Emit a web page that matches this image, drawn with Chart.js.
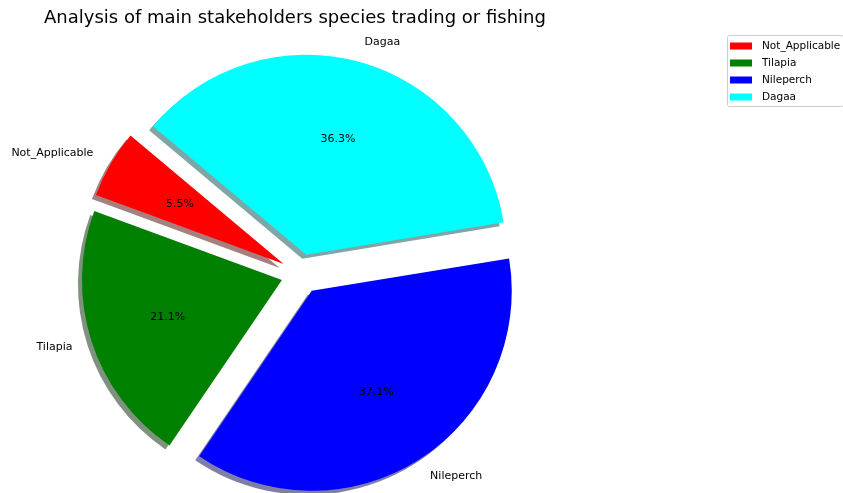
<!DOCTYPE html>
<html>
<head>
<meta charset="utf-8">
<script src="https://cdn.jsdelivr.net/npm/chart.js@4/dist/chart.umd.min.js"></script>
<style>
  body { margin: 0; background: #fff; }
  #wrap { width: 843px; height: 493px; }
</style>
</head>
<body>
<div id="wrap"><canvas id="pieCanvas" width="843" height="493"></canvas></div>
<script>
// species shares, in legend order
const categories = ["Not_Applicable", "Tilapia", "Nileperch", "Dagaa"];
const shares = [5.5, 21.1, 37.1, 36.3];
const sliceColors = ["#ff0000", "#008000", "#0000ff", "#00ffff"];
const chartTitle = "Analysis of main stakeholders species trading or fishing";

const FONT = "'DejaVu Sans', sans-serif";
const EXPLODE = 20;

// chart.js draws clockwise, so feed the slices in reverse order
const drawLabels = categories.slice().reverse();
const drawShares = shares.slice().reverse();
const drawColors = sliceColors.slice().reverse();

function shadowOf(hex) {
  const r = parseInt(hex.slice(1, 3), 16) * 0.3;
  const g = parseInt(hex.slice(3, 5), 16) * 0.3;
  const b = parseInt(hex.slice(5, 7), 16) * 0.3;
  return "rgba(" + r + "," + g + "," + b + ",0.5)";
}

// shift of an exploded arc along its middle angle
function arcShift(arc) {
  const p = arc.getProps(["x", "y", "startAngle", "endAngle", "outerRadius"], true);
  const mid = (p.startAngle + p.endAngle) / 2;
  return { dx: Math.cos(mid) * EXPLODE, dy: Math.sin(mid) * EXPLODE, mid: mid, p: p };
}

const pieExtras = {
  id: "pieExtras",
  // draw shadows, then each wedge pushed out from the centre
  beforeDatasetDraw(chart, args) {
    const ctx = chart.ctx;
    const arcs = args.meta.data;
    ctx.save();
    arcs.forEach((arc, i) => {
      const s = arcShift(arc);
      const x = s.p.x + s.dx - 4, y = s.p.y + s.dy + 4;
      ctx.beginPath();
      ctx.moveTo(x, y);
      ctx.arc(x, y, s.p.outerRadius, s.p.startAngle, s.p.endAngle);
      ctx.closePath();
      ctx.fillStyle = shadowOf(drawColors[i]);
      ctx.fill();
    });
    arcs.forEach((arc) => {
      const s = arcShift(arc);
      ctx.save();
      ctx.translate(s.dx, s.dy);
      arc.draw(ctx, chart.chartArea);
      ctx.restore();
    });
    ctx.restore();
    return false;
  },
  afterDatasetsDraw(chart) {
    const ctx = chart.ctx;
    const meta = chart.getDatasetMeta(0);
    const total = drawShares.reduce((a, b) => a + b, 0);
    ctx.save();
    ctx.font = "11px " + FONT;
    ctx.fillStyle = "#000";
    ctx.textBaseline = "middle";
    meta.data.forEach((arc, i) => {
      const s = arcShift(arc);
      const cx = s.p.x + s.dx, cy = s.p.y + s.dy, r = s.p.outerRadius;
      const ux = Math.cos(s.mid), uy = Math.sin(s.mid);
      // percentage inside
      ctx.textAlign = "center";
      ctx.fillText((drawShares[i] / total * 100).toFixed(1) + "%", cx + ux * r * 0.6, cy + uy * r * 0.6);
      // category name outside
      ctx.textAlign = ux > 0 ? "left" : "right";
      ctx.fillText(drawLabels[i], cx + ux * r * 1.1, cy + uy * r * 1.1);
    });
    ctx.restore();
  },
  afterDraw(chart) {
    const ctx = chart.ctx;
    ctx.save();
    // title over the pie
    ctx.font = "18px " + FONT;
    ctx.fillStyle = "#000";
    ctx.textAlign = "center";
    ctx.textBaseline = "middle";
    ctx.fillText(chartTitle, 295, 18);
    // legend frame
    const bx = 727.5, by = 35.5, bw = 116, bh = 71;
    ctx.beginPath();
    ctx.roundRect(bx, by, bw, bh, 2);
    ctx.fillStyle = "rgba(255,255,255,0.8)";
    ctx.fill();
    ctx.strokeStyle = "#cccccc";
    ctx.lineWidth = 1;
    ctx.stroke();
    ctx.font = "10.5px " + FONT;
    ctx.textAlign = "left";
    categories.forEach((name, i) => {
      const ry = 46 + i * 17;
      ctx.fillStyle = sliceColors[i];
      ctx.fillRect(730, ry - 3.5, 22, 7);
      ctx.fillStyle = "#000";
      ctx.fillText(name, 762, ry);
    });
    ctx.restore();
  }
};

new Chart(document.getElementById("pieCanvas"), {
  type: "pie",
  data: {
    labels: drawLabels,
    datasets: [{
      data: drawShares,
      backgroundColor: drawColors,
      borderWidth: 0
    }]
  },
  options: {
    responsive: false,
    animation: false,
    events: [],
    rotation: -50,
    radius: 200,
    layout: { padding: { left: 6, right: 247, top: 55, bottom: 0 } },
    plugins: {
      legend: { display: false },
      tooltip: { enabled: false },
      title: { display: false }
    }
  },
  plugins: [pieExtras]
});
</script>
</body>
</html>
